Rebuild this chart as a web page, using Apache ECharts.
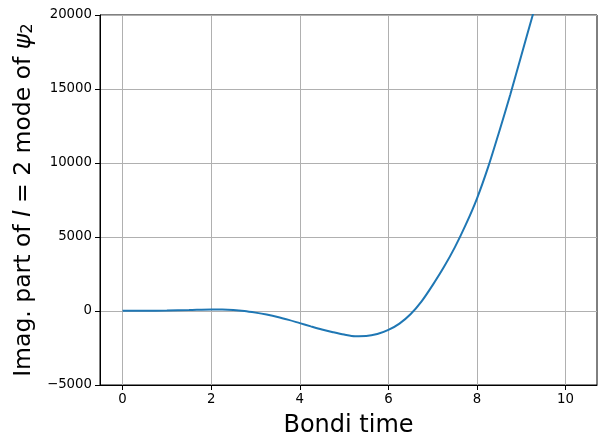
<!DOCTYPE html>
<html>
<head>
<meta charset="utf-8">
<script src="https://cdn.jsdelivr.net/npm/echarts@6/dist/echarts.min.js"></script>
<style>
html,body{margin:0;padding:0;background:#fff;}
#chart{width:605px;height:448px;}
</style>
</head>
<body>
<div id="chart"></div>
<script>
// Bondi time values (x) and imaginary part of l=2 mode of psi2 (y)
const bondiTime = [0, 0.5, 1, 1.5, 2, 2.25, 2.5, 2.75, 3, 3.25, 3.5, 3.75, 4, 4.25, 4.5, 4.75, 5, 5.25, 5.5, 5.75, 6, 6.25, 6.5, 6.75, 7, 7.25, 7.5, 7.75, 8, 8.25, 8.5, 8.75, 9, 9.25, 9.5, 9.75, 10, 10.2];
const imagPsi2 = [20, 20, 30, 60, 100, 100, 70, 0, -110, -240, -400, -600, -820, -1040, -1250, -1430, -1590, -1700, -1690, -1560, -1280, -850, -220, 650, 1750, 2950, 4300, 5850, 7600, 9700, 12100, 14600, 17250, 19900, 22550, 25200, 27900, 30100];
const xTicks = [0, 2, 4, 6, 8, 10];
const yTicks = [-5000, 0, 5000, 10000, 15000, 20000];

const chart = echarts.init(document.getElementById('chart'), null, {renderer: 'canvas'});
const font = 'DejaVu Sans';
const pts = bondiTime.map((t, i) => [t, imagPsi2[i]]);
const fmt = v => (v < 0 ? '\u2212' + Math.abs(v) : String(v));

chart.setOption({
  animation: false,
  backgroundColor: '#ffffff',
  grid: {left: 100, right: 8, top: 15, bottom: 63, show: true, borderColor: '#000', borderWidth: 1, backgroundColor: 'transparent'},
  xAxis: {
    type: 'value', min: -0.51, max: 10.71,
    name: 'Bondi time', nameLocation: 'middle', nameGap: 29,
    nameTextStyle: {fontFamily: font, fontSize: 24, color: '#000', verticalAlign: 'top'},
    axisLine: {show: true, onZero: false, lineStyle: {color: '#000', width: 1}},
    axisTick: {show: true, inside: false, length: 5, lineStyle: {color: '#000'}, customValues: xTicks},
    axisLabel: {fontFamily: font, fontSize: 13.3, color: '#000', margin: 8, customValues: xTicks, formatter: fmt},
    splitLine: {show: true, lineStyle: {color: '#b0b0b0', width: 1}}
  },
  yAxis: {
    type: 'value', min: yTicks[0], max: yTicks[yTicks.length - 1], interval: 5000,
    name: '{n|Imag. part of }{i|l}{n| = 2 mode of }{i|ψ}{s|2}',
    nameLocation: 'middle', nameGap: 64, nameRotate: 90,
    nameTextStyle: {
      fontFamily: font, fontSize: 23.5, color: '#000',
      rich: {
        n: {fontFamily: font, fontSize: 23.5, color: '#000'},
        i: {fontFamily: font, fontSize: 23.5, fontStyle: 'italic', color: '#000'},
        s: {fontFamily: font, fontSize: 16.5, color: '#000', verticalAlign: 'bottom', padding: [8, 0, 0, 0]}
      }
    },
    axisLine: {show: true, onZero: false, lineStyle: {color: '#000', width: 1}},
    axisTick: {show: true, inside: false, length: 5, lineStyle: {color: '#000'}},
    axisLabel: {fontFamily: font, fontSize: 13.3, color: '#000', margin: 8, formatter: fmt},
    splitLine: {show: true, lineStyle: {color: '#b0b0b0', width: 1}}
  },
  series: [{
    type: 'line', data: pts, smooth: 0.3, showSymbol: false, clip: true,
    lineStyle: {color: '#1f77b4', width: 2}
  }]
});
</script>
</body>
</html>
